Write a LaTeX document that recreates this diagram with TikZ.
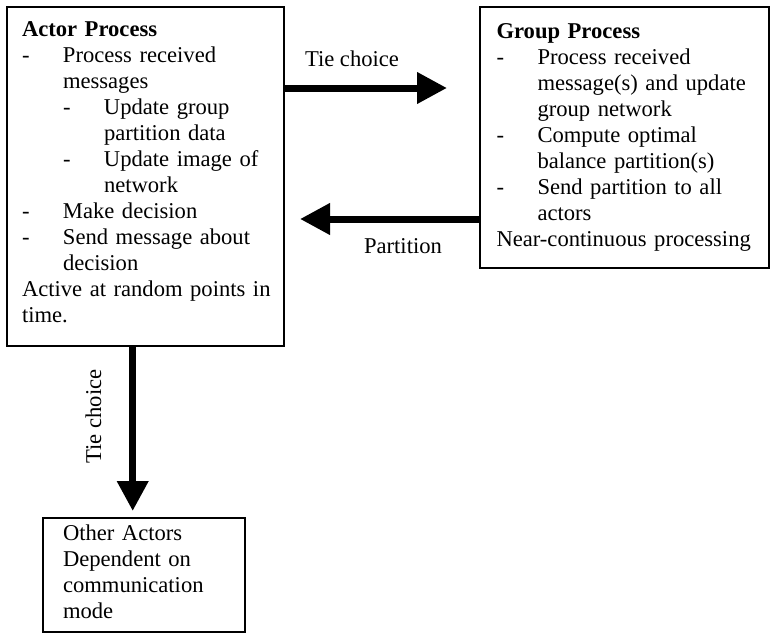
\documentclass[tikz,border=0pt]{standalone}
\usepackage{fontspec}
\setmainfont{Liberation Serif}
\usepackage{tikz}
\usetikzlibrary{arrows.meta}
\newcommand{\dashitem}[1]{\par\noindent\hangindent=41pt\hangafter=1\makebox[41pt][l]{-}#1}
\newcommand{\subdashitem}[1]{\par\noindent\hangindent=82pt\hangafter=1\hspace*{41pt}\makebox[41pt][l]{-}#1}

\begin{document}
\begin{tikzpicture}[x=1pt,y=-1pt,
  box/.style={draw,line width=1.2pt,rectangle,inner ysep=0pt,
    font=\fontsize{22.6pt}{26pt}\selectfont},
  thickarrow/.style={line width=7pt,-{Triangle[length=30pt,width=30pt]}},
  lbl/.style={anchor=base,font=\fontsize{22.6pt}{26pt}\selectfont}]
\useasboundingbox (0,0) rectangle (775,643);
\node[box,inner xsep=15pt,text width=247pt,minimum height=339pt] (actor) at (145.5,176.5) {
\raggedright
\noindent\textbf{Actor Process}
\dashitem{Process received\newline messages}
\subdashitem{Update group\newline partition data}
\subdashitem{Update image of\newline network}
\dashitem{Make decision}
\dashitem{Send message about\newline decision}
\par\noindent\mbox{Active at random points in}\newline time.\vspace*{9pt}};
\node[box,inner xsep=16.5pt,text width=256pt,minimum height=261pt] (group) at (624.5,137.5) {
\raggedright
\noindent\textbf{Group Process}
\dashitem{Process received\newline message(s) and update\newline group network}
\dashitem{Compute optimal\newline balance partition(s)}
\dashitem{Send partition to all\newline actors}
\par\noindent\mbox{Near-continuous processing}};
\node[box,inner xsep=20pt,text width=162pt,minimum height=114pt] (other) at (144,575) {
\raggedright
\noindent Other Actors\newline Dependent on\newline communication\newline mode\vspace*{6pt}};
\coordinate (tiptie) at (447,88);
\coordinate (tippart) at (300,219);
\coordinate (tipdown) at (132.7,511);
\draw[thickarrow] (actor.east |- tiptie) -- (tiptie);
\draw[thickarrow] (group.west |- tippart) -- (tippart);
\draw[thickarrow] (actor.south -| tipdown) -- (tipdown);
\node[lbl] (tielabel) at (352,66.7) {Tie choice};
\node[lbl] (partlabel) at (403,253) {Partition};
\node[lbl,rotate=90] (downlabel) at (101,416.5) {Tie choice};
\end{tikzpicture}
\end{document}
